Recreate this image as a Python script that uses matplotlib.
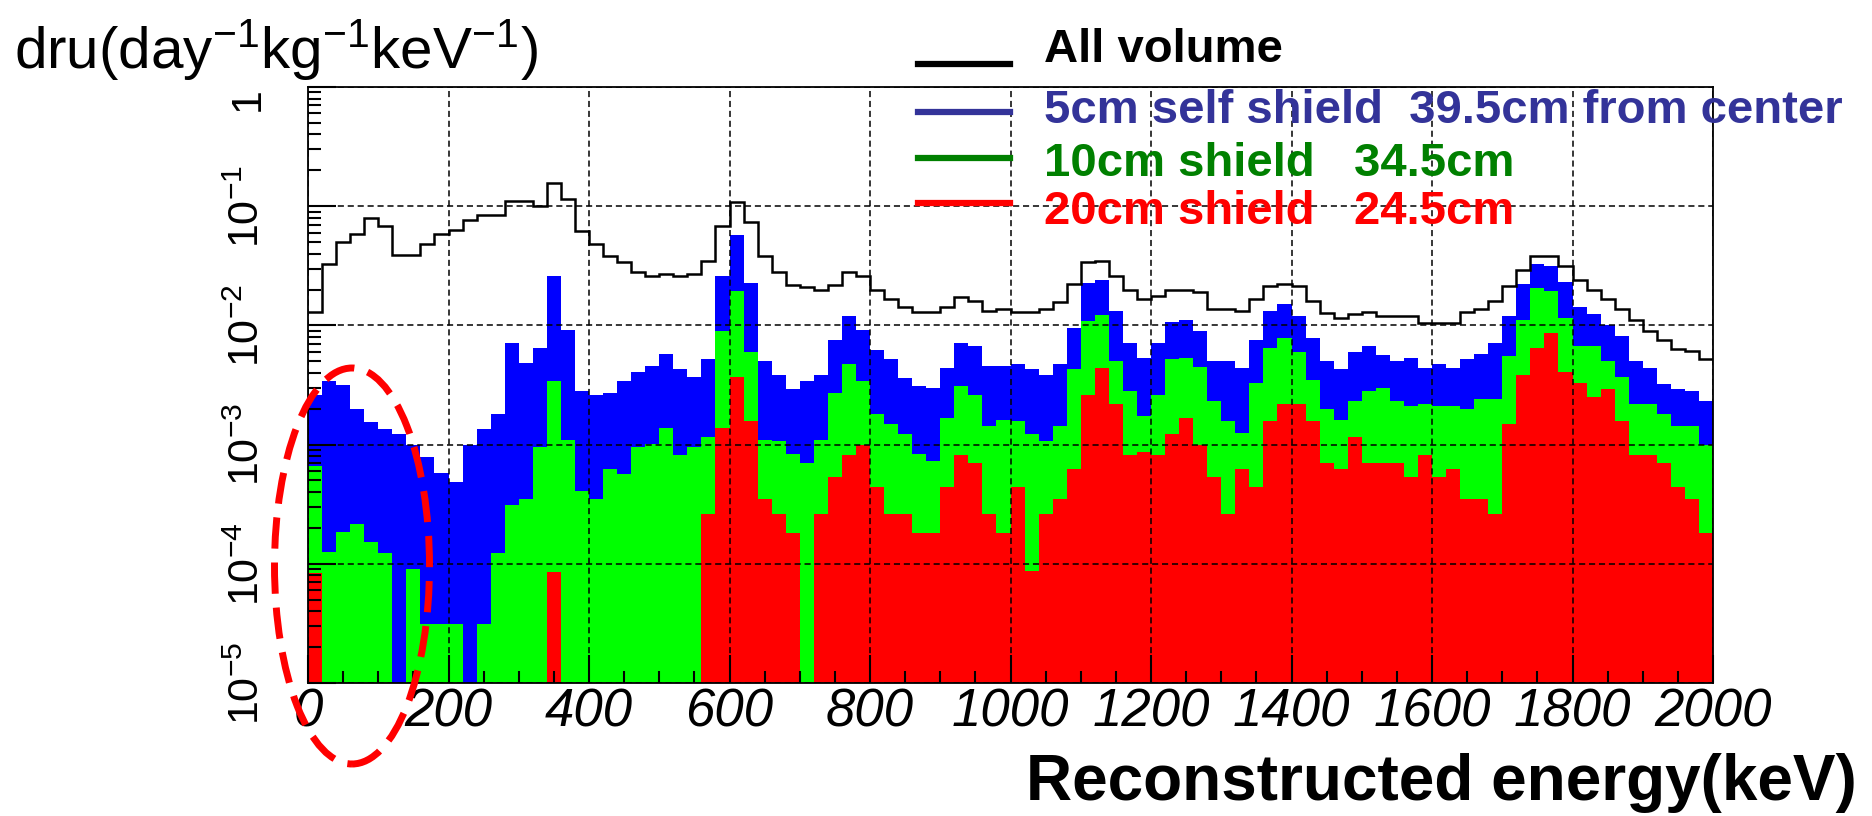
import numpy as np
import matplotlib as mpl

mpl.use('Agg')
import matplotlib.pyplot as plt
from matplotlib.patches import Ellipse
from matplotlib.lines import Line2D
from matplotlib.ticker import LogLocator, NullFormatter

plt.rcParams['font.family'] = ['Liberation Sans', 'DejaVu Sans']
plt.rcParams['mathtext.fontset'] = 'custom'
plt.rcParams['mathtext.rm'] = 'Liberation Sans'
plt.rcParams['mathtext.it'] = 'Liberation Sans:italic'
plt.rcParams['mathtext.bf'] = 'Liberation Sans:bold'

# 100 bins of 20 keV, 0 .. 2000 keV
bin_edges = np.linspace(0, 2000, 101)

# all volume (black outline)
all_volume = [
    0.013, 0.033, 0.050, 0.059, 0.079, 0.068, 0.039, 0.039, 0.048, 0.059,
    0.063, 0.077, 0.085, 0.085, 0.110, 0.110, 0.101, 0.158, 0.116, 0.062,
    0.048, 0.038, 0.034, 0.028, 0.026, 0.027, 0.026, 0.027, 0.035, 0.068,
    0.108, 0.073, 0.038, 0.028, 0.022, 0.021, 0.020, 0.022, 0.028, 0.026,
    0.020, 0.0165, 0.0144, 0.0129, 0.0129, 0.0142, 0.0174, 0.0161, 0.0133, 0.0137,
    0.0129, 0.0129, 0.0137, 0.0157, 0.0224, 0.034, 0.035, 0.026, 0.0197, 0.0168,
    0.0177, 0.0197, 0.0197, 0.0189, 0.0137, 0.0137, 0.0133, 0.0168, 0.0213, 0.0221,
    0.0213, 0.0161, 0.0126, 0.0115, 0.0124, 0.0129, 0.0119, 0.0119, 0.0119, 0.0105,
    0.0105, 0.0105, 0.0129, 0.0137, 0.0161, 0.0213, 0.029, 0.038, 0.038, 0.0316,
    0.024, 0.0197, 0.0168, 0.0137, 0.0110, 0.0090, 0.0075, 0.0064, 0.0061, 0.0052,
]

# 5cm self shield (blue)
shield_5cm = [
    0.00263, 0.00339, 0.00316, 0.0020, 0.00155, 0.00135, 0.00123, 0.0010, 0.00079, 0.00058,
    0.00049, 0.0010, 0.00135, 0.00182, 0.0071, 0.0048, 0.0065, 0.026, 0.0092, 0.0028,
    0.0026, 0.0027, 0.0034, 0.0041, 0.0046, 0.0058, 0.0043, 0.0037, 0.0052, 0.026,
    0.057, 0.0229, 0.0050, 0.0038, 0.0029, 0.0034, 0.0038, 0.0076, 0.0120, 0.0092,
    0.0062, 0.0052, 0.0036, 0.0031, 0.0030, 0.0044, 0.0071, 0.0067, 0.0046, 0.0046,
    0.0047, 0.0043, 0.0038, 0.0047, 0.0096, 0.0229, 0.0241, 0.0131, 0.0071, 0.0053,
    0.0071, 0.0107, 0.0110, 0.0089, 0.0050, 0.0050, 0.0044, 0.0076, 0.0131, 0.0152,
    0.0120, 0.0079, 0.0050, 0.0043, 0.0060, 0.0067, 0.0056, 0.0050, 0.0053, 0.0044,
    0.0047, 0.0044, 0.0052, 0.0058, 0.0071, 0.0120, 0.0221, 0.0325, 0.0316, 0.0232,
    0.0144, 0.0124, 0.0100, 0.0082, 0.0050, 0.0044, 0.0032, 0.0029, 0.0028, 0.0023,
]

# 10cm shield (green)
shield_10cm = [
    0.00066, 0.000126, 0.000186, 0.000214, 0.000151, 0.000123, 0, 0.000091, 0.000031, 0.000031,
    0.000031, 0, 0.000031, 0.000123, 0.00031, 0.00035, 0.00095, 0.0034, 0.0011, 0.00041,
    0.00035, 0.00062, 0.00057, 0.00096, 0.00101, 0.00137, 0.00082, 0.00096, 0.00115, 0.0089,
    0.0193, 0.0060, 0.0011, 0.00107, 0.00084, 0.00070, 0.0011, 0.0027, 0.0047, 0.0034,
    0.0018, 0.0015, 0.00122, 0.00084, 0.00073, 0.00168, 0.0031, 0.0026, 0.00144, 0.00161,
    0.00157, 0.00122, 0.00107, 0.00144, 0.0043, 0.0108, 0.0122, 0.0050, 0.0028, 0.00174,
    0.0026, 0.0052, 0.0053, 0.0045, 0.0023, 0.00157, 0.00126, 0.0033, 0.0065, 0.0078,
    0.0060, 0.0035, 0.0020, 0.00161, 0.0023, 0.0028, 0.0030, 0.0023, 0.0021, 0.0022,
    0.0021, 0.0021, 0.0020, 0.0024, 0.0024, 0.0055, 0.0110, 0.0207, 0.0193, 0.0115,
    0.0067, 0.0067, 0.0050, 0.0037, 0.0022, 0.0022, 0.0018, 0.00144, 0.00144, 0.0010,
]

# 20cm shield (red)
shield_20cm = [
    0.000083, 0, 0, 0, 0, 0, 0, 0, 0, 0,
    0, 0, 0, 0, 0, 0, 0, 0.000086, 0, 0,
    0, 0, 0, 0, 0, 0, 0, 0, 0.00026, 0.00137,
    0.0037, 0.00157, 0.00035, 0.00026, 0.00018, 0, 0.00026, 0.00053, 0.00082, 0.0010,
    0.00044, 0.00026, 0.00026, 0.00018, 0.00018, 0.00044, 0.00082, 0.00070, 0.00026, 0.00018,
    0.00044, 0.000087, 0.00026, 0.00035, 0.00062, 0.0026, 0.0044, 0.0022, 0.00082, 0.00087,
    0.00082, 0.00122, 0.00168, 0.0010, 0.00053, 0.00026, 0.00062, 0.00044, 0.00157, 0.0022,
    0.0022, 0.00157, 0.00070, 0.00062, 0.00115, 0.00070, 0.00070, 0.00070, 0.00053, 0.00082,
    0.00053, 0.00062, 0.00035, 0.00035, 0.00026, 0.0015, 0.0038, 0.0065, 0.0086, 0.0041,
    0.0033, 0.0025, 0.0029, 0.00157, 0.00082, 0.00082, 0.00070, 0.00044, 0.00035, 0.00018,
]

x_ticks = [0, 200, 400, 600, 800, 1000, 1200, 1400, 1600, 1800, 2000]
y_ticks = [1e-5, 1e-4, 1e-3, 1e-2, 1e-1, 1]
y_tick_labels = ['$10^{-5}$', '$10^{-4}$', '$10^{-3}$', '$10^{-2}$', '$10^{-1}$', '1']

legend_labels = ['All volume', '5cm self shield  39.5cm from center',
                 '10cm shield   34.5cm', '20cm shield   24.5cm']
legend_colors = ['black', '#333399', '#008000', '#ff0000']

W, H = 1872, 816
fig = plt.figure(figsize=(W / 100, H / 100), dpi=100)
ax = fig.add_axes([308 / W, 1 - 683 / H, 1405 / W, 596 / H])

floor = 1e-7


def positive(v):
    v = np.asarray(v, dtype=float)
    return np.where(v > 0, v, floor)


ax.stairs(positive(shield_5cm), bin_edges, fill=True, color='#0000ff', baseline=floor, lw=0)
ax.stairs(positive(shield_10cm), bin_edges, fill=True, color='#00ff00', baseline=floor, lw=0)
ax.stairs(positive(shield_20cm), bin_edges, fill=True, color='#ff0000', baseline=floor, lw=0)
ax.stairs(all_volume, bin_edges, color='black', lw=1.8, baseline=None)

ax.set_yscale('log')
ax.set_xlim(0, 2000)
ax.set_ylim(1e-5, 1)

ax.set_xticks(x_ticks)
ax.set_xticklabels([str(t) for t in x_ticks], fontsize=38, style='italic')
ax.set_xticks(np.arange(0, 2001, 50), minor=True)
ax.set_yticks(y_ticks)
ax.set_yticklabels(y_tick_labels, fontsize=31, rotation=90, va='center')
# the top label "1" sits just below the frame, as in ROOT
ax.get_yticklabels()[-1].set_va('top')
ax.yaxis.set_minor_locator(LogLocator(base=10, subs=range(2, 10)))
ax.yaxis.set_minor_formatter(NullFormatter())

ax.tick_params(which='both', direction='in', top=False, right=False, width=1.5, color='black')
ax.tick_params(which='major', length=20)
ax.tick_params(which='minor', length=9)
ax.tick_params(axis='x', which='major', pad=3)
ax.tick_params(axis='y', which='major', pad=29)

ax.set_axisbelow(False)
ax.grid(True, which='major', color='black', ls=(0, (4, 2.5)), lw=1.1)
for s in ax.spines.values():
    s.set_linewidth(1.3)

# axis titles
fig.text(14 / W, 1 - 68 / H, r'dru(day$^{-1}$kg$^{-1}$keV$^{-1}$)',
         fontsize=42, ha='left', va='baseline')
fig.text(1857 / W, 1 - 800 / H, 'Reconstructed energy(keV)',
         fontsize=46, fontweight='bold', ha='right', va='baseline')

# legend, drawn by hand like the ROOT one
line_y = [64, 112, 158, 203]
text_y = [62, 123, 176, 224]
for lab, col, ly, ty in zip(legend_labels, legend_colors, line_y, text_y):
    fig.add_artist(Line2D([918 / W, 1010 / W], [1 - ly / H, 1 - ly / H],
                          transform=fig.transFigure, color=col, lw=4.5))
    fig.text(1044 / W, 1 - ty / H, lab, color=col, fontsize=34,
             fontweight='bold', ha='left', va='baseline')

# dashed red ellipse around the low-energy region
ell = Ellipse((352 / W, 1 - 566 / H), 155 / W, 396 / H, transform=fig.transFigure,
              fill=False, edgecolor='#ff0000', lw=5, ls=(0, (4.5, 2)), clip_on=False)
fig.add_artist(ell)

fig.savefig('out.png', dpi=100)
